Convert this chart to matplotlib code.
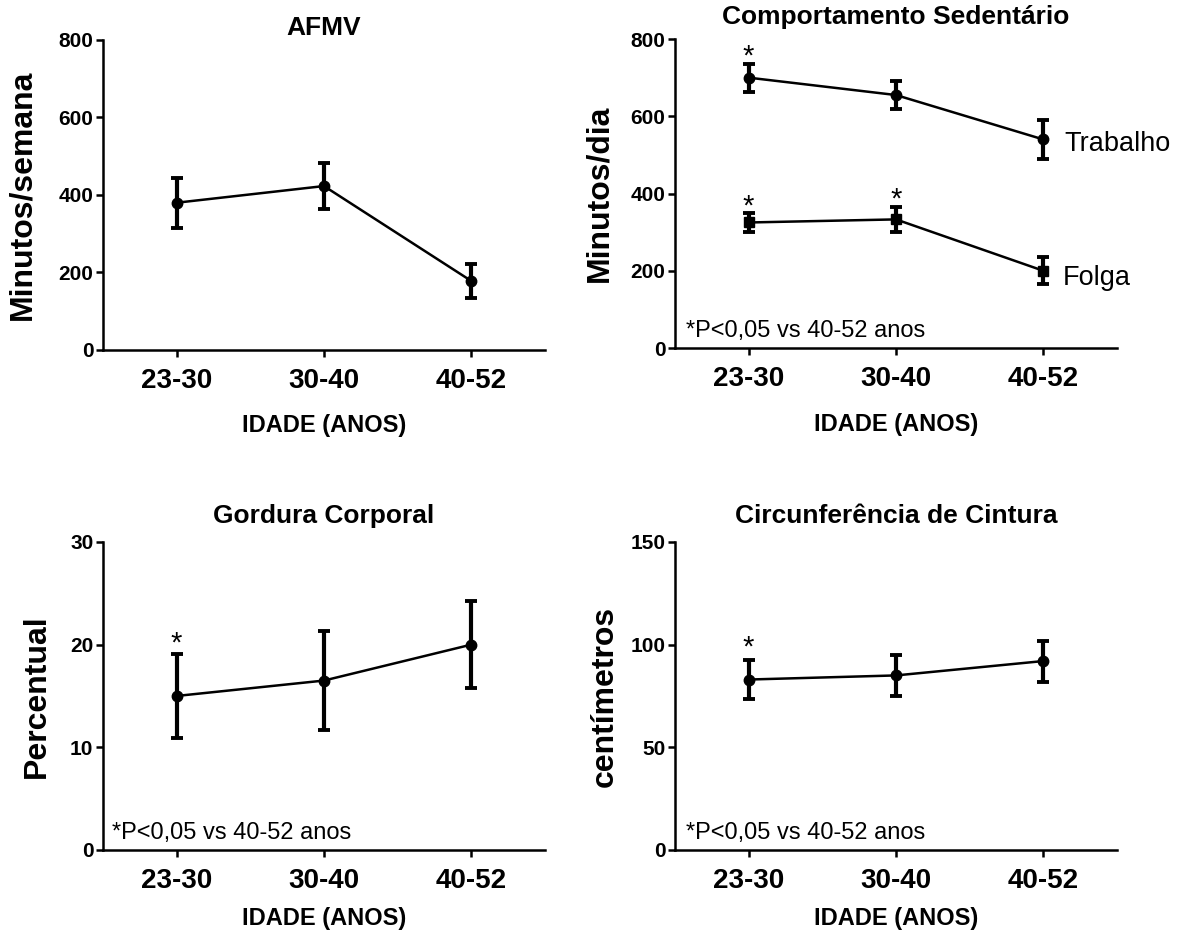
import numpy as np
import matplotlib
matplotlib.use("Agg")
import matplotlib.pyplot as plt

plt.rcParams['font.family'] = ['Liberation Sans', 'DejaVu Sans']

# data
idade = ["23-30", "30-40", "40-52"]
x = np.arange(len(idade))

afmv_mean = [380, 423, 178]
afmv_err = [65, 60, 45]

trabalho_mean = [700, 655, 540]
trabalho_err = [36, 37, 50]
folga_mean = [325, 333, 200]
folga_err = [24, 33, 35]

gordura_mean = [15.0, 16.5, 20.0]
gordura_err = [4.1, 4.8, 4.2]

cintura_mean = [83, 85, 92]
cintura_err = [9.5, 10, 10]

nota = "*P<0,05 vs 40-52 anos"


def series(ax, mean, err, marker='o'):
    ax.errorbar(x, mean, yerr=err, fmt='-' + marker, color='black', lw=1.8,
                elinewidth=3.0, capsize=4.5, capthick=2.8, markersize=7.5,
                clip_on=False, zorder=3)


def star(ax, xi, top, dy=-4):
    ax.annotate("*", (xi, top), xytext=(0, dy), textcoords='offset points',
                ha='center', va='bottom', fontsize=21)


def style(ax, ymax, step, ylabel, title, title_pad, ylab_x, xlab_y):
    ax.set_xlim(-0.5, 2.5)
    ax.set_ylim(0, ymax)
    ax.set_xticks(x)
    ax.set_xticklabels(idade, fontsize=20, fontweight='bold')
    ax.set_yticks(np.arange(0, ymax + step / 2, step))
    for lab in ax.get_yticklabels():
        lab.set_fontsize(15)
        lab.set_fontweight('bold')
    ax.tick_params(axis='both', direction='out', length=5, width=1.8, color='black')
    ax.tick_params(axis='x', pad=8)
    ax.tick_params(axis='y', pad=2)
    ax.spines['top'].set_visible(False)
    ax.spines['right'].set_visible(False)
    ax.spines['left'].set_linewidth(1.8)
    ax.spines['bottom'].set_linewidth(1.8)
    ax.set_ylabel(ylabel, fontsize=23, fontweight='bold')
    ax.yaxis.set_label_coords(ylab_x, 0.5)
    ax.set_xlabel("IDADE (ANOS)", fontsize=17, fontweight='bold', va='top')
    ax.xaxis.set_label_coords(0.5, xlab_y)
    ax.set_title(title, fontsize=19, fontweight='bold', pad=title_pad)


fig = plt.figure(figsize=(11.85, 9.36), dpi=100)

ax1 = fig.add_axes([0.0869, 0.6261, 0.373, 0.3312])
ax2 = fig.add_axes([0.5696, 0.6282, 0.373, 0.3301])
ax3 = fig.add_axes([0.0869, 0.0919, 0.373, 0.3291])
ax4 = fig.add_axes([0.5696, 0.0919, 0.373, 0.3291])

# AFMV
series(ax1, afmv_mean, afmv_err)
style(ax1, 800, 200, "Minutos/semana", "AFMV", 1.5, -0.149, -0.205)

# Comportamento sedentario
series(ax2, trabalho_mean, trabalho_err, 'o')
series(ax2, folga_mean, folga_err, 's')
style(ax2, 800, 200, "Minutos/dia", "Comportamento Sedentário", 10.5, -0.138, -0.21)
star(ax2, 0, trabalho_mean[0] + trabalho_err[0], -5)
star(ax2, 0, folga_mean[0] + folga_err[0], -5)
star(ax2, 1, folga_mean[1] + folga_err[1], -5)
ax2.annotate("Trabalho", (2, trabalho_mean[2]), xytext=(15, -3), textcoords='offset points',
             ha='left', va='center', fontsize=19.5, annotation_clip=False)
ax2.annotate("Folga", (2, folga_mean[2]), xytext=(14, -5), textcoords='offset points',
             ha='left', va='center', fontsize=19.5, annotation_clip=False)
ax2.text(0.026, 0.055, nota, transform=ax2.transAxes, fontsize=17, va='center')

# Gordura corporal
series(ax3, gordura_mean, gordura_err)
style(ax3, 30, 10, "Percentual", "Gordura Corporal", 13.5, -0.115, -0.185)
star(ax3, 0, gordura_mean[0] + gordura_err[0], -3)
ax3.text(0.02, 0.055, nota, transform=ax3.transAxes, fontsize=17, va='center')

# Circunferencia de cintura
series(ax4, cintura_mean, cintura_err)
style(ax4, 150, 50, "centímetros", "Circunferência de Cintura", 13.5, -0.124, -0.185)
star(ax4, 0, cintura_mean[0] + cintura_err[0], -1)
ax4.text(0.024, 0.055, nota, transform=ax4.transAxes, fontsize=17, va='center')

fig.savefig("out.png", dpi=100)
